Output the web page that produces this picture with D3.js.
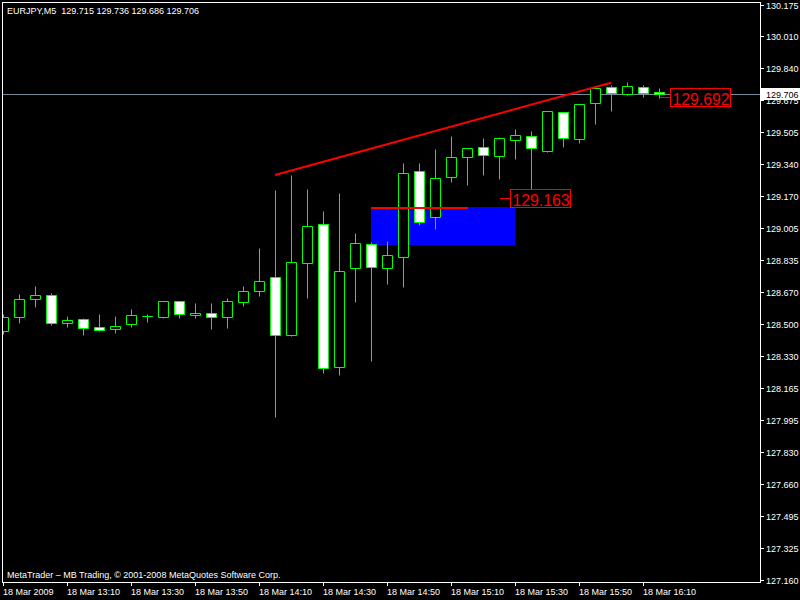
<!DOCTYPE html>
<html>
<head>
<meta charset="utf-8">
<script src="https://cdn.jsdelivr.net/npm/d3@7"></script>
<style>
  body { margin: 0; background: #000; }
  svg { display: block; }
  text { font-family: "Liberation Sans", Arial, sans-serif; }
</style>
</head>
<body>
<div id="chart"></div>
<script>
// EURJPY M5 candles, 12:50 .. 16:15
var opens  = [128.465, 128.535, 128.632, 128.650, 128.503, 128.524, 128.482, 128.472, 128.498, 128.540,
              128.538, 128.619, 128.545, 128.556, 128.535, 128.617, 128.671, 128.745, 128.441, 128.821,
              129.023, 128.273, 128.792, 128.918, 128.792, 128.853, 129.300, 129.062, 129.269, 129.374,
              129.426, 129.379, 129.463, 129.484, 129.408, 129.610, 129.468, 129.657, 129.741, 129.704,
              129.741, 129.715];
var highs  = [128.552, 128.657, 128.699, 128.661, 128.542, 128.531, 128.552, 128.542, 128.577, 128.552,
              128.619, 128.619, 128.610, 128.610, 128.636, 128.699, 128.898, 129.202, 129.281, 129.208,
              129.092, 129.187, 128.977, 128.930, 128.935, 129.342, 129.344, 129.417, 129.486, 129.423,
              129.475, 129.479, 129.521, 129.510, 129.617, 129.612, 129.654, 129.738, 129.751, 129.767,
              129.751, 129.736];
var lows   = [128.447, 128.507, 128.587, 128.496, 128.482, 128.444, 128.465, 128.454, 128.486, 128.512,
              128.531, 128.531, 128.531, 128.475, 128.479, 128.594, 128.647, 128.014, 128.438, 128.638,
              128.244, 128.234, 128.617, 128.307, 128.711, 128.695, 129.020, 128.999, 129.243, 129.227,
              129.283, 129.262, 129.367, 129.163, 129.400, 129.426, 129.447, 129.547, 129.615, 129.702,
              129.688, 129.686];
var closes = [128.535, 128.629, 128.650, 128.503, 128.519, 128.477, 128.470, 128.488, 128.545, 128.540,
              128.619, 128.551, 128.556, 128.535, 128.619, 128.671, 128.724, 128.441, 128.823, 129.012,
              128.267, 128.776, 128.923, 128.797, 128.860, 129.290, 129.033, 129.264, 129.374, 129.421,
              129.384, 129.474, 129.489, 129.421, 129.615, 129.474, 129.652, 129.736, 129.709, 129.746,
              129.709, 129.706];

var priceTicks = [130.175, 130.010, 129.840, 129.675, 129.505, 129.340, 129.170, 129.005, 128.835, 128.670,
                  128.500, 128.330, 128.165, 127.995, 127.830, 127.660, 127.495, 127.325, 127.160];
var timeTickIndex = [0, 4, 8, 12, 16, 20, 24, 28, 32, 36, 40];
var timeTickLabels = ["18 Mar 2009", "18 Mar 13:10", "18 Mar 13:30", "18 Mar 13:50", "18 Mar 14:10",
                      "18 Mar 14:30", "18 Mar 14:50", "18 Mar 15:10", "18 Mar 15:30", "18 Mar 15:50",
                      "18 Mar 16:10"];

// drawn objects
var trendFrom = {i: 17, p: 129.281}, trendTo = {i: 38, p: 129.765};
var levelLine = {i0: 23, i1: 29, p: 129.108};
var zone = {i0: 23, i1: 32, top: 129.113, bottom: 128.914};
var lowMark = {i: 33, p: 129.163};
var lastMark = {i: 41, p: 129.692};
var bidPrice = 129.706;

var width = 800, height = 600;
var plotL = 2, plotT = 2, plotR = 760, plotB = 582;

var svg = d3.select("#chart")
    .append("svg")
    .attr("width", width)
    .attr("height", height);

svg.append("rect")
    .attr("width", width)
    .attr("height", height)
    .attr("fill", "#000");

var x = d3.scaleLinear()
    .domain([0, 41])
    .range([3, 659]);

var y = d3.scaleLinear()
    .domain([127.160, 130.175])
    .range([579.5, 4.5]);

function py(p) { return Math.round(y(p)) + 0.5; }

svg.append("clipPath")
    .attr("id", "plot")
    .append("rect")
    .attr("x", plotL + 1)
    .attr("y", plotT + 1)
    .attr("width", plotR - plotL - 1)
    .attr("height", plotB - plotT - 1);

var plot = svg.append("g").attr("clip-path", "url(#plot)");

// blue zone behind candles
plot.append("rect")
    .attr("x", x(zone.i0))
    .attr("y", Math.round(y(zone.top)))
    .attr("width", x(zone.i1) - x(zone.i0))
    .attr("height", Math.round(y(zone.bottom)) - Math.round(y(zone.top)))
    .attr("fill", "#0000ff");

// bid line
plot.append("line")
    .attr("x1", plotL).attr("x2", plotR)
    .attr("y1", py(bidPrice)).attr("y2", py(bidPrice))
    .attr("stroke", "#778899")
    .attr("stroke-width", 1);

var candles = d3.range(opens.length);

plot.selectAll(".wick")
    .data(candles)
    .enter()
    .append("line")
    .attr("class", "wick")
    .attr("x1", function (i) { return x(i) + 0.5; })
    .attr("x2", function (i) { return x(i) + 0.5; })
    .attr("y1", function (i) { return py(highs[i]); })
    .attr("y2", function (i) { return py(lows[i]); })
    .attr("stroke", "#00ff00")
    .attr("stroke-width", 1);

plot.selectAll(".body")
    .data(candles)
    .enter()
    .append("path")
    .attr("class", "body")
    .attr("d", function (i) {
        var x0 = x(i) - 4.5, x1 = x(i) + 5.5;
        var y0 = py(Math.max(opens[i], closes[i]));
        var y1 = py(Math.min(opens[i], closes[i]));
        return "M" + x0 + "," + y0 + "H" + x1 + "V" + y1 + "H" + x0 + "Z";
    })
    .attr("fill", function (i) {
        return closes[i] < opens[i] ? "#ffffff" : "#000000";
    })
    .attr("stroke", "#00ff00")
    .attr("stroke-width", 1);

// red trend line and level line
plot.append("line")
    .attr("x1", x(trendFrom.i)).attr("y1", y(trendFrom.p))
    .attr("x2", x(trendTo.i)).attr("y2", y(trendTo.p))
    .attr("stroke", "#ff0000")
    .attr("stroke-width", 2);

plot.append("line")
    .attr("x1", x(levelLine.i0)).attr("x2", x(levelLine.i1) + 1)
    .attr("y1", Math.round(y(levelLine.p))).attr("y2", Math.round(y(levelLine.p)))
    .attr("stroke", "#ff0000")
    .attr("stroke-width", 2);

// price labels
function priceLabel(lx, p) {
    var ly = py(p);
    plot.append("line")
        .attr("x1", lx - 10).attr("x2", lx)
        .attr("y1", ly).attr("y2", ly)
        .attr("stroke", "#ff0000");
    plot.append("rect")
        .attr("x", lx + 0.5).attr("y", ly - 9)
        .attr("width", 60).attr("height", 18)
        .attr("fill", "#000")
        .attr("stroke", "#ff0000");
    plot.append("text")
        .attr("x", lx + 2.5).attr("y", ly + 7)
        .attr("fill", "#ff0000")
        .attr("font-size", 17)
        .attr("textLength", 57)
        .attr("lengthAdjust", "spacingAndGlyphs")
        .text(p.toFixed(3));
}
priceLabel(x(lowMark.i) - 21, lowMark.p);
priceLabel(x(lastMark.i) + 11, lastMark.p);

// frame
svg.append("rect")
    .attr("x", plotL + 0.5).attr("y", plotT + 0.5)
    .attr("width", plotR - plotL).attr("height", plotB - plotT)
    .attr("fill", "none")
    .attr("stroke", "#ffffff");

// right price axis
var yAxis = svg.append("g");
yAxis.selectAll("line")
    .data(priceTicks)
    .enter()
    .append("line")
    .attr("x1", plotR).attr("x2", plotR + 4)
    .attr("y1", function (d) { return py(d); })
    .attr("y2", function (d) { return py(d); })
    .attr("stroke", "#ffffff");
yAxis.selectAll("text")
    .data(priceTicks)
    .enter()
    .append("text")
    .attr("x", 766)
    .attr("y", function (d) { return py(d) + 3; })
    .attr("fill", "#ffffff")
    .attr("font-size", 9)
    .text(function (d) { return d.toFixed(3); });

// bid label
svg.append("rect")
    .attr("x", 761).attr("y", py(bidPrice) - 6.5)
    .attr("width", 39).attr("height", 12)
    .attr("fill", "#ffffff");
svg.append("text")
    .attr("x", 766)
    .attr("y", py(bidPrice) + 3)
    .attr("fill", "#000000")
    .attr("font-size", 9)
    .text(bidPrice.toFixed(3));

// bottom time axis
var xAxis = svg.append("g");
xAxis.selectAll("line")
    .data(timeTickIndex)
    .enter()
    .append("line")
    .attr("x1", function (i) { return x(i) + 0.5; })
    .attr("x2", function (i) { return x(i) + 0.5; })
    .attr("y1", plotB).attr("y2", plotB + 4)
    .attr("stroke", "#ffffff");
xAxis.selectAll("text")
    .data(timeTickIndex)
    .enter()
    .append("text")
    .attr("x", function (i) { return x(i); })
    .attr("y", 595)
    .attr("fill", "#ffffff")
    .attr("font-size", 9)
    .text(function (i, k) { return timeTickLabels[k]; });

// header and footer
svg.append("text")
    .attr("x", 7).attr("y", 14)
    .attr("fill", "#ffffff")
    .attr("font-size", 9)
    .attr("xml:space", "preserve")
    .text("EURJPY,M5  " + opens[41].toFixed(3) + " " + highs[41].toFixed(3) + " " +
          lows[41].toFixed(3) + " " + closes[41].toFixed(3));

svg.append("text")
    .attr("x", 7).attr("y", 578)
    .attr("fill", "#ffffff")
    .attr("font-size", 9)
    .text("MetaTrader \u2013 MB Trading, \u00a9 2001-2008 MetaQuotes Software Corp.");
</script>
</body>
</html>
